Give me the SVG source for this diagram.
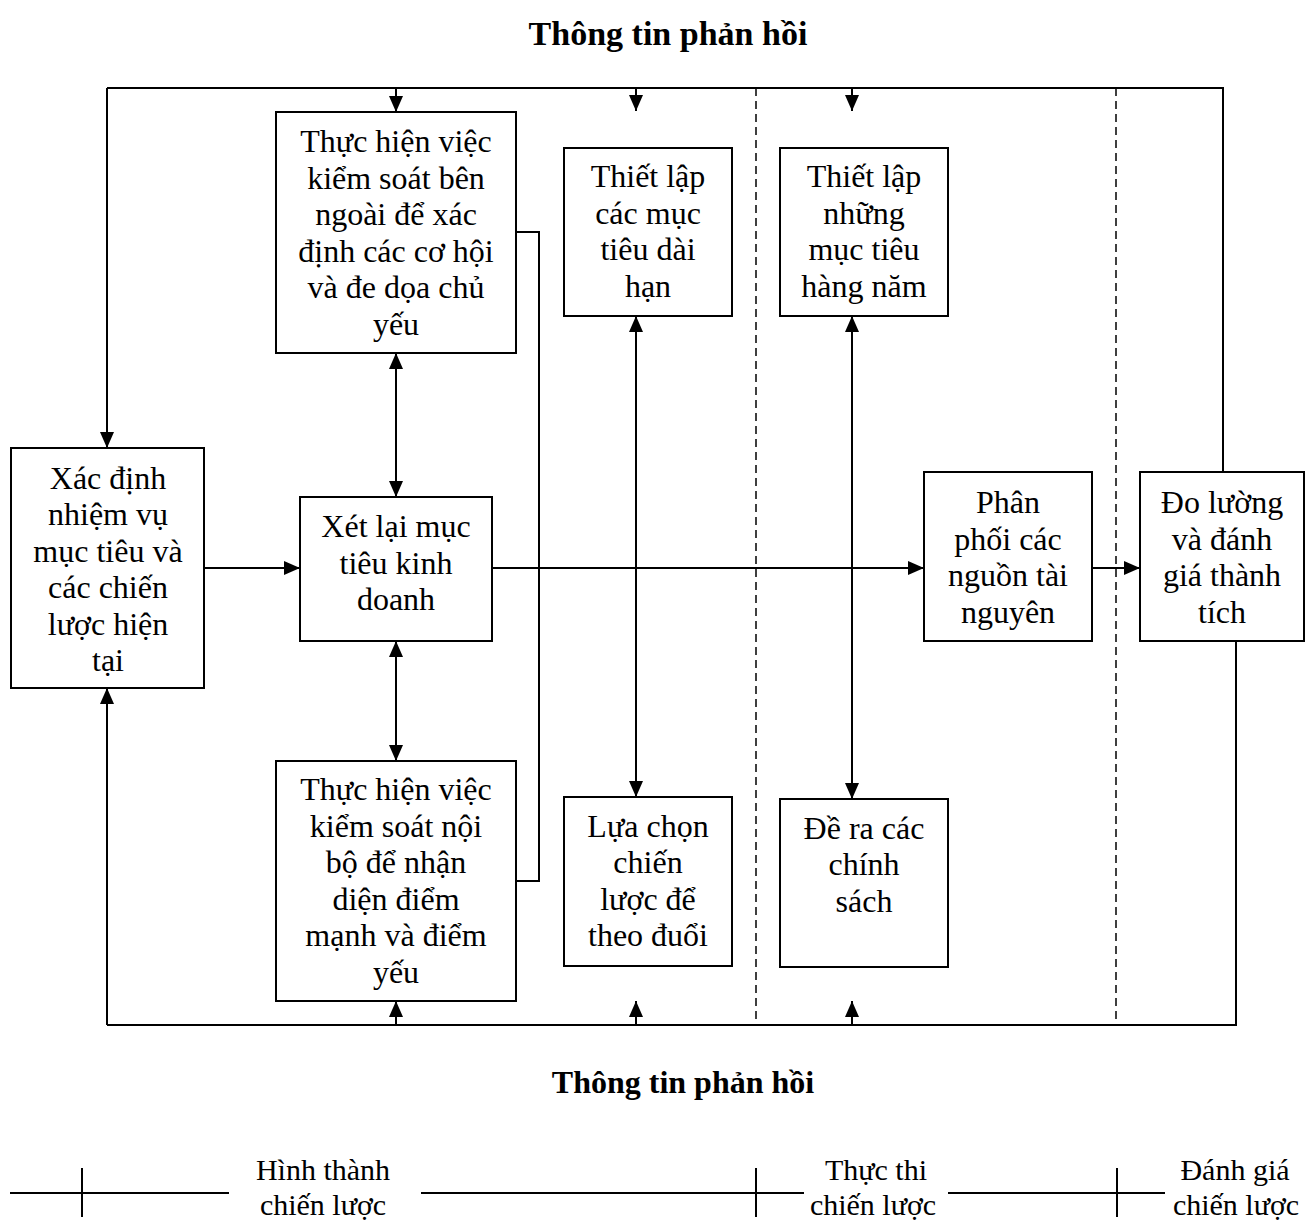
<svg xmlns="http://www.w3.org/2000/svg" width="1306" height="1222" viewBox="0 0 1306 1222">
<style>
  .box { fill: #fff; stroke: #000; stroke-width: 2; }
  .t { font-family: "Liberation Serif", "Times New Roman", serif; font-size: 32px; text-anchor: middle; fill: #000; }
  .lg { font-family: "Liberation Serif", "Times New Roman", serif; font-size: 30px; text-anchor: middle; fill: #000; }
  .title { font-family: "Liberation Serif", "Times New Roman", serif; font-size: 34px; font-weight: bold; text-anchor: middle; fill: #000; }
  .ln { fill: none; stroke: #000; stroke-width: 2; }
  .arr { fill: none; stroke: #000; stroke-width: 2; marker-end: url(#ah); }
  .bi { fill: none; stroke: #000; stroke-width: 2; marker-end: url(#ah); marker-start: url(#ah); }
  .dash { fill: none; stroke: #000; stroke-width: 1.5; stroke-dasharray: 8 5; }
</style>
<defs>
  <marker id="ah" markerWidth="16" markerHeight="14" refX="16" refY="7" orient="auto-start-reverse" markerUnits="userSpaceOnUse">
    <path d="M0,0 L16,7 L0,14 z" fill="#000"/>
  </marker>
</defs>
<rect width="1306" height="1222" fill="#fff"/>

<text class="title" x="668" y="45">Thông tin phản hồi</text>
<text class="title" x="683" y="1093" style="font-size:32px">Thông tin phản hồi</text>

<g id="connectors">
  <path class="dash" d="M756,88 V1020"/>
  <path class="dash" d="M1116,88 V1020"/>
  <path class="ln" d="M107,88 H1223 V472"/>
  <path class="arr" d="M107,88 V448"/>
  <path class="arr" d="M396,88 V112"/>
  <path class="arr" d="M636,88 V111"/>
  <path class="arr" d="M852,88 V111"/>
  <path class="ln" d="M107,1025 H1236 V641"/>
  <path class="arr" d="M107,1025 V688"/>
  <path class="arr" d="M396,1025 V1001"/>
  <path class="arr" d="M636,1025 V1001"/>
  <path class="arr" d="M852,1025 V1001"/>
  <path class="bi" d="M396,353 V497"/>
  <path class="bi" d="M396,641 V761"/>
  <path class="bi" d="M636,316 V797"/>
  <path class="bi" d="M852,316 V799"/>
  <path class="arr" d="M204,568 H300"/>
  <path class="arr" d="M492,568 H924"/>
  <path class="arr" d="M1092,568 H1140"/>
  <path class="ln" d="M516,232 H539 V881 H516"/>
</g>

<g id="n-ext">
  <rect class="box" x="276" y="112" width="240" height="241"/>
  <text class="t" x="396" y="152">Thực hiện việc</text>
  <text class="t" x="396" y="188.5">kiểm soát bên</text>
  <text class="t" x="396" y="225">ngoài để xác</text>
  <text class="t" x="396" y="261.5">định các cơ hội</text>
  <text class="t" x="396" y="298">và đe dọa chủ</text>
  <text class="t" x="396" y="334.5">yếu</text>
</g>

<g id="n-ltobj">
  <rect class="box" x="564" y="148" width="168" height="168"/>
  <text class="t" x="648" y="187">Thiết lập</text>
  <text class="t" x="648" y="223.5">các mục</text>
  <text class="t" x="648" y="260">tiêu dài</text>
  <text class="t" x="648" y="296.5">hạn</text>
</g>

<g id="n-annual">
  <rect class="box" x="780" y="148" width="168" height="168"/>
  <text class="t" x="864" y="187">Thiết lập</text>
  <text class="t" x="864" y="223.5">những</text>
  <text class="t" x="864" y="260">mục tiêu</text>
  <text class="t" x="864" y="296.5">hàng năm</text>
</g>

<g id="n-mission">
  <rect class="box" x="11" y="448" width="193" height="240"/>
  <text class="t" x="108" y="488.5">Xác định</text>
  <text class="t" x="108" y="525">nhiệm vụ</text>
  <text class="t" x="108" y="561.5">mục tiêu và</text>
  <text class="t" x="108" y="598">các chiến</text>
  <text class="t" x="108" y="634.5">lược hiện</text>
  <text class="t" x="108" y="671">tại</text>
</g>

<g id="n-review">
  <rect class="box" x="300" y="497" width="192" height="144"/>
  <text class="t" x="396" y="537">Xét lại mục</text>
  <text class="t" x="396" y="573.5">tiêu kinh</text>
  <text class="t" x="396" y="610">doanh</text>
</g>

<g id="n-alloc">
  <rect class="box" x="924" y="472" width="168" height="169"/>
  <text class="t" x="1008" y="513">Phân</text>
  <text class="t" x="1008" y="549.5">phối các</text>
  <text class="t" x="1008" y="586">nguồn tài</text>
  <text class="t" x="1008" y="622.5">nguyên</text>
</g>

<g id="n-measure">
  <rect class="box" x="1140" y="472" width="164" height="169"/>
  <text class="t" x="1222" y="513">Đo lường</text>
  <text class="t" x="1222" y="549.5">và đánh</text>
  <text class="t" x="1222" y="586">giá thành</text>
  <text class="t" x="1222" y="622.5">tích</text>
</g>

<g id="n-int">
  <rect class="box" x="276" y="761" width="240" height="240"/>
  <text class="t" x="396" y="800">Thực hiện việc</text>
  <text class="t" x="396" y="836.5">kiểm soát nội</text>
  <text class="t" x="396" y="873">bộ để nhận</text>
  <text class="t" x="396" y="909.5">diện điểm</text>
  <text class="t" x="396" y="946">mạnh và điểm</text>
  <text class="t" x="396" y="982.5">yếu</text>
</g>

<g id="n-choose">
  <rect class="box" x="564" y="797" width="168" height="169"/>
  <text class="t" x="648" y="836.5">Lựa chọn</text>
  <text class="t" x="648" y="873">chiến</text>
  <text class="t" x="648" y="909.5">lược để</text>
  <text class="t" x="648" y="946">theo đuổi</text>
</g>

<g id="n-policy">
  <rect class="box" x="780" y="799" width="168" height="168"/>
  <text class="t" x="864" y="838.5">Đề ra các</text>
  <text class="t" x="864" y="875">chính</text>
  <text class="t" x="864" y="911.5">sách</text>
</g>

<g id="legend">
  <path class="ln" d="M10,1193 H229 M82,1168 V1217"/>
  <path class="ln" d="M421,1193 H804 M756,1168 V1217"/>
  <path class="ln" d="M948,1193 H1165 M1117,1168 V1217"/>
  <text class="lg" x="323" y="1180">Hình thành</text>
  <text class="lg" x="323" y="1215">chiến lược</text>
  <text class="lg" x="876" y="1180">Thực thi</text>
  <text class="lg" x="873" y="1215">chiến lược</text>
  <text class="lg" x="1235" y="1180">Đánh giá</text>
  <text class="lg" x="1236" y="1215">chiến lược</text>
</g>
</svg>
